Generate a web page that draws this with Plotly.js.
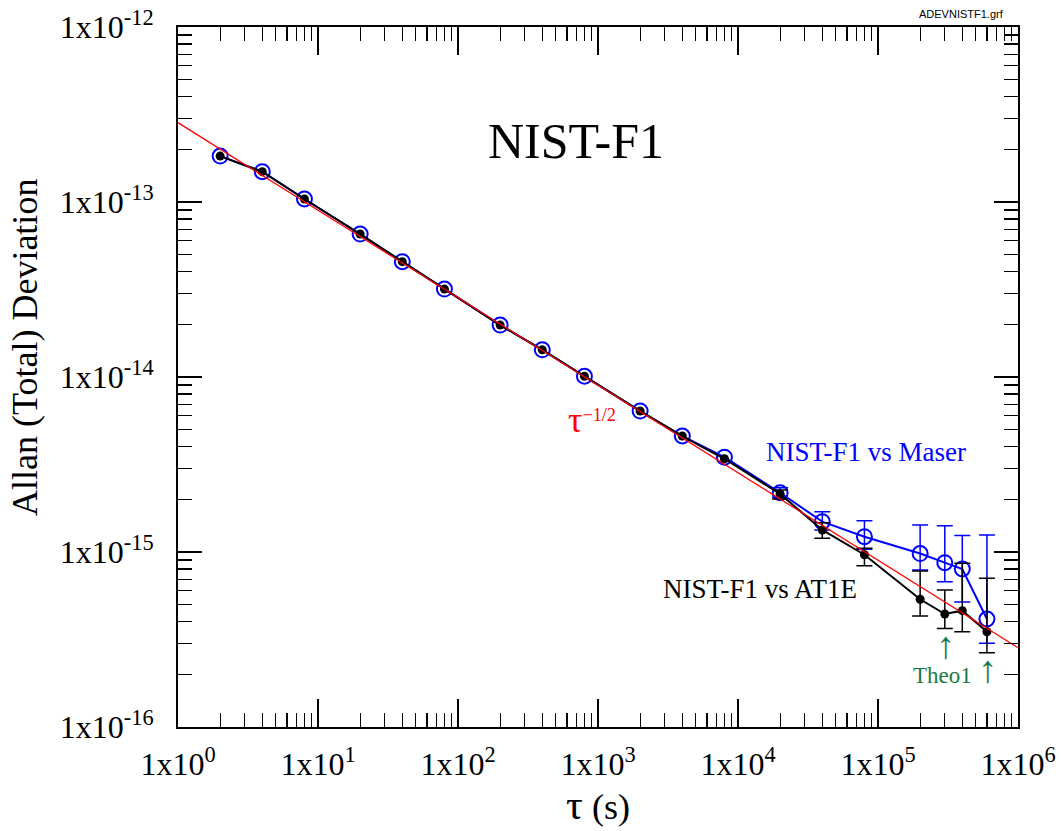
<!DOCTYPE html>
<html>
<head>
<meta charset="utf-8">
<script src="https://cdn.plot.ly/plotly-3.0.1.min.js"></script>
<style>html,body{margin:0;padding:0;background:#fff;}#chart{width:1063px;height:831px;}</style>
</head>
<body>
<div id="chart"></div>
<script>
// Averaging time tau (s)
const tau = [2, 4, 8, 20, 40, 80, 200, 400, 800, 2000, 4000, 8000, 2e4, 4e4, 8e4, 2e5, 3e5, 4e5, 6e5];

// NIST-F1 vs AT1E (black)
const at1eAdev = [1.83e-13, 1.49e-13, 1.04e-13, 6.56e-14, 4.56e-14, 3.18e-14, 1.98e-14, 1.43e-14, 1.01e-14,
  6.39e-15, 4.60e-15, 3.41e-15, 2.145e-15, 1.336e-15, 9.65e-16, 5.37e-16, 4.42e-16, 4.62e-16, 3.50e-16];
const at1eUpper = [null, null, null, null, null, null, null, null, null, null, null, null,
  2.26e-15, 1.47e-15, 1.05e-15, 7.79e-16, 6.07e-16, 8.62e-16, 7.07e-16];
const at1eLower = [null, null, null, null, null, null, null, null, null, null, null, null,
  2.01e-15, 1.198e-15, 8.35e-16, 4.31e-16, 3.66e-16, 3.50e-16, 2.66e-16];

// NIST-F1 vs Maser (blue)
const maserAdev = [1.83e-13, 1.49e-13, 1.04e-13, 6.56e-14, 4.56e-14, 3.18e-14, 1.98e-14, 1.43e-14, 1.01e-14,
  6.39e-15, 4.60e-15, 3.48e-15, 2.18e-15, 1.49e-15, 1.223e-15, 9.80e-16, 8.69e-16, 8.00e-16, 4.14e-16];
const maserUpper = [null, null, null, null, null, null, null, null, null, null, null, null,
  2.33e-15, 1.70e-15, 1.51e-15, 1.427e-15, 1.414e-15, 1.243e-15, 1.25e-15];
const maserLower = [null, null, null, null, null, null, null, null, null, null, null, null,
  2.05e-15, 1.336e-15, 1.036e-15, 7.89e-16, 6.77e-16, 5.18e-16, 3.01e-16];

// tau^-1/2 reference line
const fitTau = [1, 1e6];
const fitAdev = [2.84e-13, 2.84e-16];

// Tick labels
const xTickVals = [1, 10, 100, 1000, 1e4, 1e5, 1e6];
const xTickText = ['1x10<sup>0</sup>', '1x10<sup>1</sup>', '1x10<sup>2</sup>', '1x10<sup>3</sup>', '1x10<sup>4</sup>', '1x10<sup>5</sup>', '1x10<sup>6</sup>'];
const yTickVals = [1e-16, 1e-15, 1e-14, 1e-13, 1e-12];
const yTickText = ['1x10<sup>-16</sup>', '1x10<sup>-15</sup>', '1x10<sup>-14</sup>', '1x10<sup>-13</sup>', '1x10<sup>-12</sup>'];

function minorVals(k0, k1) {
  const out = [];
  for (let k = k0; k < k1; k++) for (let i = 2; i <= 9; i++) out.push(i * Math.pow(10, k));
  return out;
}
function errPlus(val, up) { return val.map((v, i) => up[i] == null ? NaN : up[i] - v); }
function errMinus(val, lo) { return val.map((v, i) => lo[i] == null ? NaN : v - lo[i]); }

const serif = 'Liberation Serif, Times New Roman, serif';
const BLUE = '#0000ff';
const GREEN = '#1b7a45';

const traces = [
  {
    x: tau, y: maserAdev, type: 'scatter', mode: 'lines+markers', name: 'NIST-F1 vs Maser',
    line: {color: BLUE, width: 2},
    marker: {symbol: 'circle-open', size: 15, color: BLUE, line: {width: 2, color: BLUE}},
    error_y: {type: 'data', symmetric: false, array: errPlus(maserAdev, maserUpper),
      arrayminus: errMinus(maserAdev, maserLower), color: BLUE, thickness: 1.5, width: 8}
  },
  {
    x: tau, y: at1eAdev, type: 'scatter', mode: 'lines+markers', name: 'NIST-F1 vs AT1E',
    line: {color: '#000', width: 2},
    marker: {symbol: 'circle', size: 9, color: '#000'},
    error_y: {type: 'data', symmetric: false, array: errPlus(at1eAdev, at1eUpper),
      arrayminus: errMinus(at1eAdev, at1eLower), color: '#000', thickness: 1.5, width: 8}
  },
  {
    x: fitTau, y: fitAdev, type: 'scatter', mode: 'lines', name: 'tau^-1/2',
    line: {color: '#ff0000', width: 1.3}
  }
];

const axisCommon = {
  type: 'log', showgrid: false, zeroline: false, showline: true, linecolor: '#000', linewidth: 2,
  mirror: 'allticks', ticks: 'inside', tickcolor: '#000', tickwidth: 1.2,
  tickfont: {family: serif, size: 32, color: '#000'}, tickmode: 'array'
};

const layout = {
  width: 1063, height: 831,
  margin: {l: 178, r: 45, t: 27, b: 104, pad: 0},
  paper_bgcolor: '#fff', plot_bgcolor: '#fff',
  showlegend: false,
  title: {text: 'NIST-F1', font: {family: serif, size: 50, color: '#000'},
    x: 576 / 1063, xref: 'container', xanchor: 'center', y: 1 - 140 / 831, yref: 'container', yanchor: 'middle'},
  xaxis: Object.assign({}, axisCommon, {
    range: [0, 6], tickvals: xTickVals, ticktext: xTickText, ticklen: 28, ticklabelstandoff: 8,
    minor: {tickmode: 'array', tickvals: minorVals(0, 6), ticks: 'inside', ticklen: 14, tickwidth: 1.2, tickcolor: '#000'},
    title: {text: '<span style="font-size:42px">τ</span> (s)', font: {family: serif, size: 36, color: '#000'}, standoff: 6}
  }),
  yaxis: Object.assign({}, axisCommon, {
    range: [-16, -12], tickvals: yTickVals, ticktext: yTickText, ticklen: 24, ticklabelstandoff: 16,
    minor: {tickmode: 'array', tickvals: minorVals(-16, -12), ticks: 'inside', ticklen: 14, tickwidth: 1.2, tickcolor: '#000'}
  }),
  annotations: [
    {xref: 'paper', yref: 'paper', x: (25 - 178) / 840, y: (727 - 348) / 700, text: 'Allan (Total) Deviation',
      textangle: -90, showarrow: false, xanchor: 'center', yanchor: 'middle', font: {family: serif, size: 36, color: '#000'}},
    {xref: 'x', yref: 'y', x: 4.914, y: -14.4286, text: 'NIST-F1 vs Maser', showarrow: false,
      font: {family: serif, size: 27, color: BLUE}},
    {xref: 'x', yref: 'y', x: 4.157, y: -15.211, text: 'NIST-F1 vs AT1E', showarrow: false,
      font: {family: serif, size: 27, color: '#000'}},
    {xref: 'x', yref: 'y', x: 2.957, y: -14.246, text: '<span style="font-size:36px">τ</span><sup>−1/2</sup>', showarrow: false,
      font: {family: serif, size: 26, color: '#ff0000'}},
    {xref: 'x', yref: 'y', x: 5.464, y: -15.703, text: 'Theo1', showarrow: false,
      font: {family: serif, size: 23, color: GREEN}},
    {xref: 'x', yref: 'y', x: 5.479, y: -15.53, text: '↑', showarrow: false,
      font: {family: 'Liberation Serif, DejaVu Serif, serif', size: 38, color: GREEN}},
    {xref: 'x', yref: 'y', x: 5.779, y: -15.667, text: '↑', showarrow: false,
      font: {family: 'Liberation Serif, DejaVu Serif, serif', size: 38, color: GREEN}},
    {xref: 'paper', yref: 'paper', x: (1006 - 178) / 840, y: (727 - 14) / 700, text: 'ADEVNISTF1.grf',
      showarrow: false, xanchor: 'right', yanchor: 'middle',
      font: {family: 'Liberation Sans Narrow, Liberation Sans, Arial, sans-serif', size: 11, color: '#000'}}
  ]
};

Plotly.newPlot('chart', traces, layout, {staticPlot: true, displayModeBar: false});
</script>
</body>
</html>
